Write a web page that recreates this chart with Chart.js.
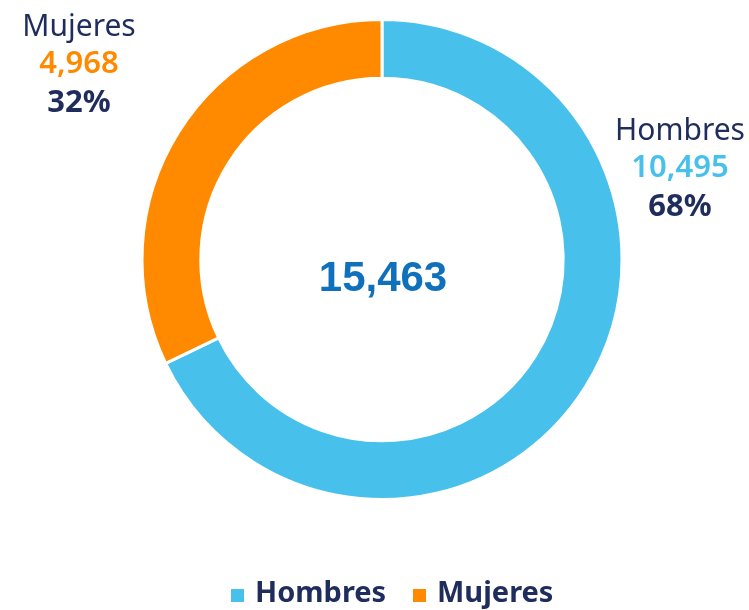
<!DOCTYPE html>
<html>
<head>
<meta charset="utf-8">
<script src="https://cdn.jsdelivr.net/npm/chart.js@4/dist/chart.umd.min.js"></script>
<style>
  html, body { margin: 0; padding: 0; background: #fff; }
  #wrap { width: 749px; height: 610px; }
</style>
</head>
<body>
<div id="wrap"><canvas id="donut" width="749" height="610"></canvas></div>
<script>
const categories = ['Hombres', 'Mujeres'];
const values = [10495, 4968];
const percents = ['68%', '32%'];
const totalLabel = '15,463';
const colors = ['#48C0EC', '#FF8A00'];

const navy = '#1F2D5C';
const labelFont = '"Noto Sans", sans-serif';

// Outside labels: name / value / percent, placed beside each slice
const labelSpots = [
  { x: 680, y: 131 },  // Hombres
  { x: 79, y: 27 }     // Mujeres
];

const sliceLabels = {
  id: 'sliceLabels',
  afterDraw(chart) {
    const ctx = chart.ctx;
    const area = chart.chartArea;
    const cx = (area.left + area.right) / 2;
    const cy = (area.top + area.bottom) / 2;
    ctx.save();
    ctx.textAlign = 'center';
    ctx.textBaseline = 'middle';

    // center total
    ctx.fillStyle = '#0F71BC';
    ctx.font = 'bold 42px "Liberation Sans", sans-serif';
    ctx.fillText(totalLabel, cx + 1, cy + 20);

    categories.forEach((name, i) => {
      const p = labelSpots[i];
      ctx.fillStyle = navy;
      ctx.font = '400 30px ' + labelFont;
      ctx.fillText(name, p.x, p.y);
      ctx.fillStyle = colors[i];
      ctx.font = '600 31px ' + labelFont;
      ctx.fillText(values[i].toLocaleString('en-US'), p.x, p.y + 37);
      ctx.fillStyle = navy;
      ctx.font = '700 31px ' + labelFont;
      ctx.fillText(percents[i], p.x, p.y + 76);
    });

    // legend row
    const legendY = 595;
    const items = [{ x: 231 }, { x: 413 }];
    ctx.textAlign = 'left';
    ctx.font = '700 29px ' + labelFont;
    categories.forEach((name, i) => {
      ctx.fillStyle = colors[i];
      ctx.fillRect(items[i].x, legendY - 6, 13, 13);
      ctx.fillStyle = navy;
      ctx.fillText(name, items[i].x + 24, legendY - 1);
    });
    ctx.restore();
  }
};

new Chart(document.getElementById('donut'), {
  type: 'doughnut',
  data: {
    labels: categories,
    datasets: [{
      data: values,
      backgroundColor: colors,
      borderColor: '#ffffff',
      borderWidth: 3,
      hoverOffset: 0
    }]
  },
  options: {
    responsive: false,
    animation: false,
    cutout: '75.5%',
    rotation: 0,
    layout: { padding: { top: 18, bottom: 109, left: 15, right: 0 } },
    plugins: {
      legend: { display: false },
      tooltip: { enabled: false }
    }
  },
  plugins: [sliceLabels]
});
</script>
</body>
</html>
